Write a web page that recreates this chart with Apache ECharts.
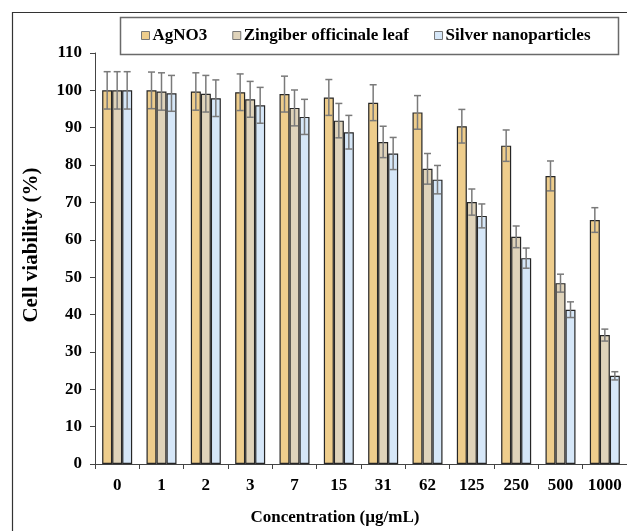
<!DOCTYPE html>
<html>
<head>
<meta charset="utf-8">
<script src="https://cdn.jsdelivr.net/npm/echarts@6/dist/echarts.min.js"></script>
<style>
  html, body { margin: 0; padding: 0; background: #fff; }
  #chart { width: 627px; height: 531px; }
</style>
</head>
<body>
<div id="chart"></div>
<script>
// Concentrations tested (µg/mL)
var categories = ['0', '1', '2', '3', '7', '15', '31', '62', '125', '250', '500', '1000'];

// Mean cell viability (%) per treatment
var agno3    = [100, 100, 99.7, 99.5, 99.0, 98.1, 96.7, 94.1, 90.4, 85.2, 77.1, 65.3];
var zingiber = [100, 99.7, 99.1, 97.6, 95.3, 91.9, 86.2, 79.0, 70.1, 60.8, 48.4, 34.5];
var silver   = [100, 99.2, 97.9, 96.0, 92.9, 88.8, 83.1, 76.1, 66.4, 55.1, 41.3, 23.6];

// Standard deviations for the error bars
var agno3Err    = [5, 4.9, 5, 4.9, 4.8, 4.8, 4.8, 4.5, 4.5, 4.2, 4.0, 3.3];
var zingiberErr = [5, 5, 4.9, 4.8, 4.8, 4.6, 4.2, 4.1, 3.5, 2.9, 2.4, 1.6];
var silverErr   = [5, 4.8, 4.9, 4.8, 4.7, 4.5, 4.3, 3.8, 3.2, 2.7, 2.1, 1.1];

var yTicks = { min: 0, max: 110, interval: 10 };

var seriesNames = ['AgNO3', 'Zingiber officinale leaf', 'Silver nanoparticles'];
var seriesColors = ['#EECD8C', '#DFD3BA', '#D6E7F8'];
var means = [agno3, zingiber, silver];
var errs = [agno3Err, zingiberErr, silverErr];

var BAR_W = 10;
var FONT = '"Liberation Serif", "Times New Roman", serif';

function errorSeries(idx) {
  var data = means[idx].map(function (v, i) {
    return [i, v - errs[idx][i], v + errs[idx][i]];
  });
  return {
    type: 'custom',
    name: seriesNames[idx] + ' SD',
    z: 5,
    silent: true,
    encode: { x: 0, y: [1, 2] },
    data: data,
    renderItem: function (params, api) {
      var off = (idx - 1) * BAR_W;
      var lo = api.coord([api.value(0), api.value(1)]);
      var hi = api.coord([api.value(0), api.value(2)]);
      var x = lo[0] + off;
      var cap = 3.5;
      var style = { stroke: '#7a7a7a', lineWidth: 1.5 };
      return {
        type: 'group',
        children: [
          { type: 'line', shape: { x1: x, y1: lo[1], x2: x, y2: hi[1] }, style: style },
          { type: 'line', shape: { x1: x - cap, y1: hi[1], x2: x + cap, y2: hi[1] }, style: style },
          { type: 'line', shape: { x1: x - cap, y1: lo[1], x2: x + cap, y2: lo[1] }, style: style }
        ]
      };
    }
  };
}

var barSeries = means.map(function (arr, idx) {
  return {
    type: 'bar',
    name: seriesNames[idx],
    data: arr,
    barWidth: BAR_W,
    barGap: '0%',
    z: 2,
    itemStyle: {
      color: seriesColors[idx],
      borderColor: '#262626',
      borderWidth: 1.2
    }
  };
});

var chart = echarts.init(document.getElementById('chart'), null, { renderer: 'canvas' });

chart.setOption({
  animation: false,
  backgroundColor: '#ffffff',
  graphic: [
    {
      type: 'rect',
      shape: { x: 12.5, y: 12.5, width: 700, height: 600 },
      style: { fill: 'none', stroke: '#333', lineWidth: 1.2 },
      z: 0
    },
    {
      type: 'rect',
      shape: { x: 120.5, y: 17.5, width: 498, height: 37 },
      style: { fill: '#fff', stroke: '#6a6a6a', lineWidth: 1.5 },
      z: 1
    },
    {
      type: 'text',
      x: 335,
      y: 518,
      style: {
        text: 'Concentration (µg/mL)',
        font: 'bold 17px ' + FONT,
        fill: '#000',
        align: 'center',
        verticalAlign: 'middle'
      }
    },
    {
      type: 'text',
      x: 32,
      y: 245,
      rotation: Math.PI / 2,
      style: {
        text: 'Cell viability (%)',
        font: 'bold 21px ' + FONT,
        fill: '#000',
        align: 'center',
        verticalAlign: 'middle'
      }
    }
  ],
  legend: {
    data: seriesNames,
    left: 141,
    top: 27,
    itemGap: 25,
    itemWidth: 8,
    itemHeight: 8,
    icon: 'rect',
    padding: 0,
    z: 10,
    itemStyle: { borderColor: '#777', borderWidth: 1 },
    textStyle: { fontFamily: FONT, fontWeight: 'bold', fontSize: 17, color: '#000', padding: [0, 0, 0, -2] }
  },
  grid: { left: 95, top: 53, width: 540, height: 411, containLabel: false },
  xAxis: {
    type: 'category',
    data: categories,
    axisLine: { lineStyle: { color: '#444', width: 1 } },
    axisTick: { show: true, alignWithLabel: false, length: 5, lineStyle: { color: '#444' } },
    axisLabel: { margin: 13, fontFamily: FONT, fontWeight: 'bold', fontSize: 17, color: '#000' },
    splitLine: { show: false }
  },
  yAxis: {
    type: 'value',
    min: yTicks.min,
    max: yTicks.max,
    interval: yTicks.interval,
    axisLine: { show: true, lineStyle: { color: '#444', width: 1 } },
    axisTick: { show: true, length: 5, lineStyle: { color: '#444' } },
    axisLabel: { margin: 13, fontFamily: FONT, fontWeight: 'bold', fontSize: 17, color: '#000' },
    splitLine: { show: false }
  },
  series: barSeries.concat([errorSeries(0), errorSeries(1), errorSeries(2)])
});
</script>
</body>
</html>
